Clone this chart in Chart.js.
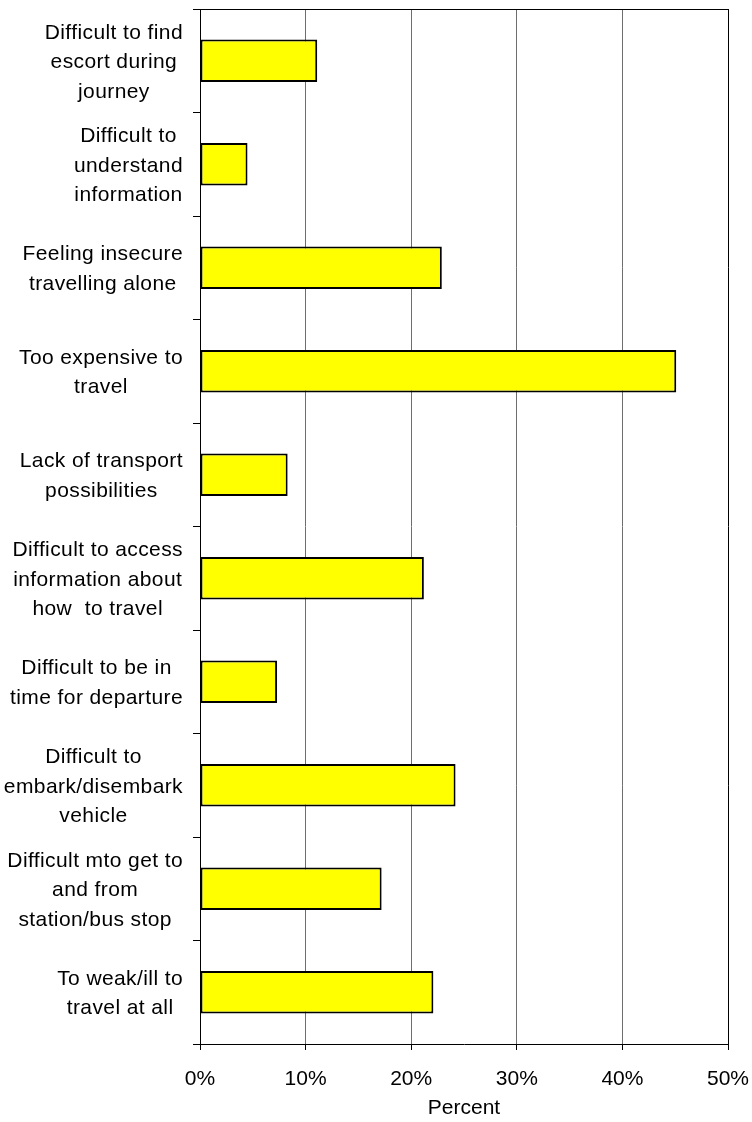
<!DOCTYPE html>
<html>
<head>
<meta charset="utf-8">
<script src="https://cdn.jsdelivr.net/npm/chart.js@4"></script>
<style>
  html, body { margin: 0; padding: 0; background: #ffffff; }
  #wrap { width: 752px; height: 1122px; }
</style>
</head>
<body>
<div id="wrap"><canvas id="c" width="752" height="1122"></canvas></div>
<script>
const categories = [
  ["Difficult to find", "escort during", "journey"],
  ["Difficult to", "understand", "information"],
  ["Feeling insecure", "travelling alone"],
  ["Too expensive to", "travel"],
  ["Lack of transport", "possibilities"],
  ["Difficult to access", "information about", "how  to travel"],
  ["Difficult to be in", "time for departure"],
  ["Difficult to", "embark/disembark", "vehicle"],
  ["Difficult mto get to", "and from", "station/bus stop"],
  ["To weak/ill to", "travel at all"]
];
const percentValues = [11.1, 4.5, 22.9, 45.1, 8.3, 21.2, 7.3, 24.2, 17.2, 22.1];
const xTickValues = [0, 10, 20, 30, 40, 50];
const xAxisTitle = "Percent";

const FONT = '"Liberation Sans", Arial, sans-serif';

const categoryLabelPlugin = {
  id: 'categoryLabels',
  afterDraw(chart) {
    const ys = chart.scales.y;
    const ctx = chart.ctx;
    ctx.save();
    ctx.font = '21px ' + FONT;
    ctx.fillStyle = '#000000';
    ctx.textAlign = 'center';
    ctx.textBaseline = 'middle';
    if ('letterSpacing' in ctx) ctx.letterSpacing = '0.4px';
    const lh = 29.5;
    const right = 183;
    categories.forEach((lines, i) => {
      const cy = ys.getPixelForValue(i) + 1.5;
      let bw = 0;
      lines.forEach(l => { bw = Math.max(bw, ctx.measureText(l).width); });
      const cx = right - bw / 2;
      const y0 = cy - (lines.length - 1) / 2 * lh;
      lines.forEach((l, k) => ctx.fillText(l, cx, y0 + k * lh));
    });
    // top border of plot area
    const a = chart.chartArea;
    ctx.letterSpacing = '0px';
    ctx.strokeStyle = '#000000';
    ctx.lineWidth = 1;
    ctx.beginPath();
    ctx.moveTo(a.left, Math.round(a.top) + 0.5);
    ctx.lineTo(a.right, Math.round(a.top) + 0.5);
    ctx.stroke();
    ctx.restore();
  }
};

new Chart(document.getElementById('c'), {
  type: 'bar',
  data: {
    labels: categories.map(l => l.join(' ')),
    datasets: [{
      data: percentValues,
      backgroundColor: '#FFFF00',
      borderColor: '#000000',
      borderWidth: 2,
      borderSkipped: false,
      categoryPercentage: 1,
      barPercentage: 0.41
    }]
  },
  options: {
    indexAxis: 'y',
    responsive: false,
    animation: false,
    devicePixelRatio: 1,
    layout: { padding: { top: 9, right: 24, left: 0, bottom: 0 } },
    plugins: { legend: { display: false }, tooltip: { enabled: false } },
    scales: {
      x: {
        type: 'linear',
        min: 0,
        max: 50,
        afterBuildTicks(scale) { scale.ticks = xTickValues.map(v => ({ value: v })); },
        afterFit(scale) {
          scale.height = 78;
          scale.paddingLeft = 0;
          scale.paddingRight = 0;
        },
        ticks: {
          callback: v => v + '%',
          font: { family: FONT, size: 21 },
          color: '#000000',
          padding: 17,
          maxRotation: 0
        },
        grid: {
          color: ctx => (ctx.tick && ctx.tick.value === 50) ? '#000000' : '#6e6e6e',
          tickColor: '#000000',
          tickLength: 6,
          lineWidth: 1
        },
        border: { color: '#000000', width: 1 },
        title: {
          display: true,
          text: xAxisTitle,
          font: { family: FONT, size: 21 },
          color: '#000000',
          padding: { top: 0, bottom: 1 }
        }
      },
      y: {
        type: 'category',
        afterFit(scale) {
          scale.width = 200;
          scale.paddingTop = 0;
          scale.paddingBottom = 0;
        },
        ticks: { display: false },
        grid: {
          offset: true,
          drawOnChartArea: false,
          drawTicks: true,
          tickLength: 7,
          color: '#000000',
          tickColor: '#000000'
        },
        border: { color: '#000000', width: 1 }
      }
    }
  },
  plugins: [categoryLabelPlugin]
});
</script>
</body>
</html>
